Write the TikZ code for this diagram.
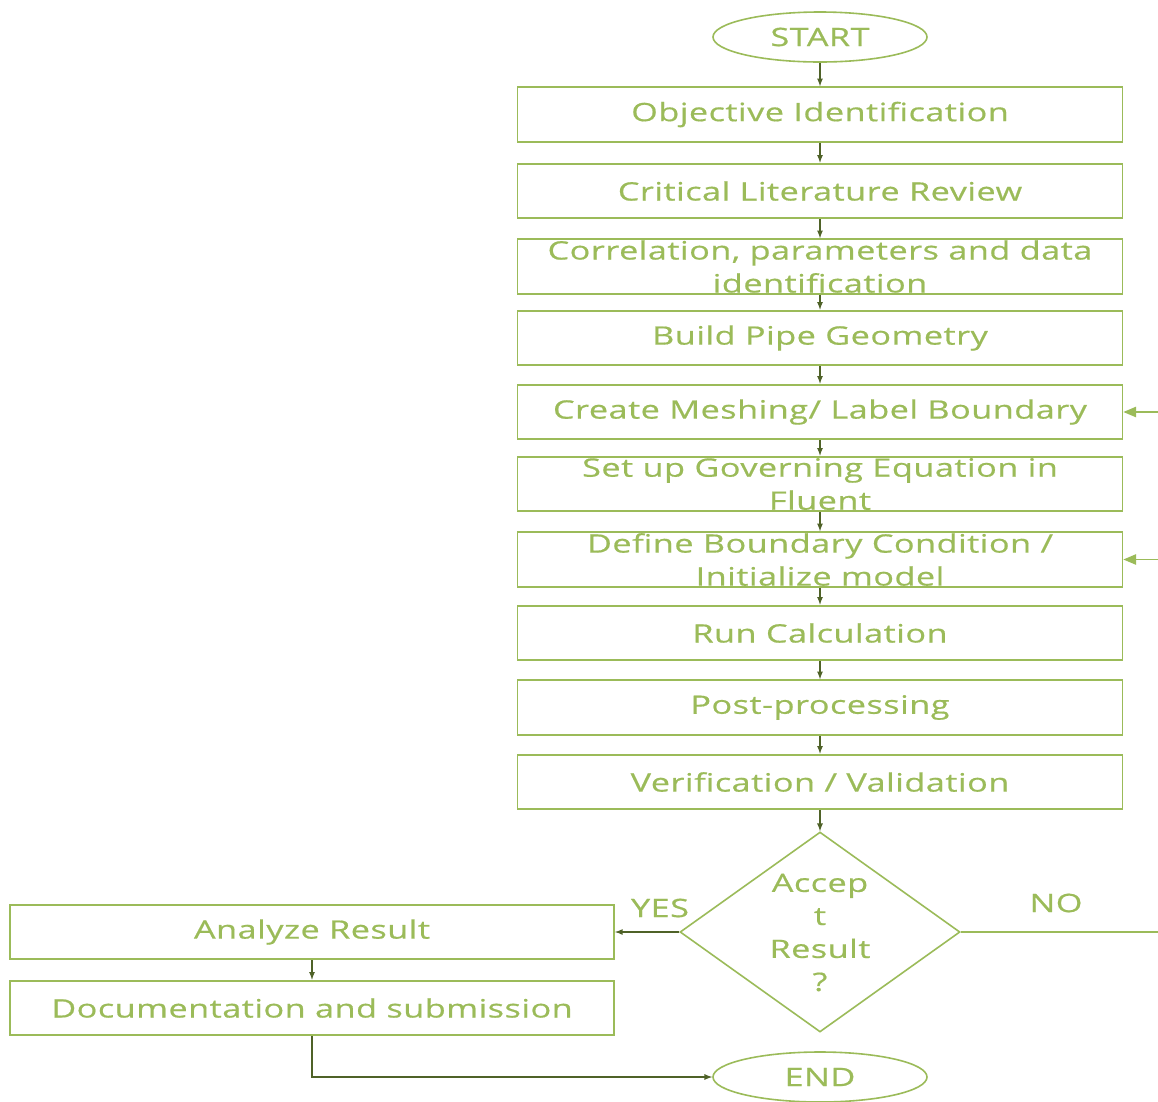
\documentclass[tikz,border=0pt]{standalone}
\usepackage{fontspec}
\setmainfont{Open Sans}[FakeStretch=1.35, LetterSpace=2, FakeBold=0.6]
\usetikzlibrary{shapes.geometric,arrows}
\definecolor{lgreen}{RGB}{155,187,89}
\definecolor{dgreen}{RGB}{79,98,40}
\tikzset{
  txt/.style={text=lgreen, font=\fontsize{19}{24.75}\selectfont},
  stepbox/.style={txt, draw=lgreen, line width=1.4pt, minimum width=453.75pt,
    minimum height=41pt, inner sep=0pt, align=center},
  term/.style={txt, ellipse, draw=lgreen, line width=1.2pt, minimum width=160.5pt,
    minimum height=37.5pt, inner sep=0pt},
  flow/.style={->, >=latex, draw=dgreen, line width=1pt},
  back/.style={->, >=triangle 45, draw=lgreen, line width=1.2pt}
}
\begin{document}
\begin{tikzpicture}[x=0.75pt, y=-0.75pt]
        \useasboundingbox (0, 0) rectangle (1158, 1101);
        \node[term] (start) at (820, 37) {START};
        \node[stepbox] (obj) at (820, 114.5) {Objective Identification};
        \node[stepbox] (lit) at (820, 191) {Critical Literature Review};
        \node[stepbox] (corr) at (820, 266.5) {Correlation, parameters and data\\identification};
        \node[stepbox] (geom) at (820, 338) {Build Pipe Geometry};
        \node[stepbox] (mesh) at (820, 412) {Create Meshing/ Label Boundary};
        \node[stepbox] (gov) at (820, 484) {Set up Governing Equation in\\Fluent};
        \node[stepbox] (bc) at (820, 559.5) {Define Boundary Condition /\\Initialize model};
        \node[stepbox] (run) at (820, 633) {Run Calculation};
        \node[stepbox] (post) at (820, 707.5) {Post-processing};
        \node[stepbox] (verif) at (820, 782) {Verification / Validation};
        \draw[flow] (start) to (obj);
        \draw[flow] (obj) to (lit);
        \draw[flow] (lit) to (corr);
        \draw[flow] (corr) to (geom);
        \draw[flow] (geom) to (mesh);
        \draw[flow] (mesh) to (gov);
        \draw[flow] (gov) to (bc);
        \draw[flow] (bc) to (run);
        \draw[flow] (run) to (post);
        \draw[flow] (post) to (verif);

        \node[diamond, draw=lgreen, line width=1.2pt, minimum width=210pt, minimum height=150pt,
          inner sep=0pt] (acc) at (820, 932) {};
        \node[txt, align=center] (acctxt) at (820, 932.5) {Accep\\t\\Result\\?};
        \draw[flow] (verif) to (acc);
        \node[stepbox, minimum width=453pt] (ana) at (312, 932) {Analyze Result};
        \node[stepbox, minimum width=453pt] (doc) at (312, 1008) {Documentation and submission};
        \node[term] (end) at (820, 1077) {END};
        \node[txt] (yes) at (660, 908) {YES};
        \node[txt] (no) at (1056, 903) {NO};
        \coordinate (noend) at (1158, 932);
        \coordinate (meshin) at (1158, 412);
        \coordinate (bcin) at (1158, 559.5);
        \draw[flow] (acc) to (ana);
        \draw[flow] (ana) to (doc);
        \draw[flow] (doc.south) |- (end.west);
        \draw[draw=lgreen, line width=1.2pt] (acc.east) to (noend);
        \draw[back] (meshin) to (mesh.east);
        \draw[back] (bcin) to (bc.east);
      \end{tikzpicture}
\end{document}
